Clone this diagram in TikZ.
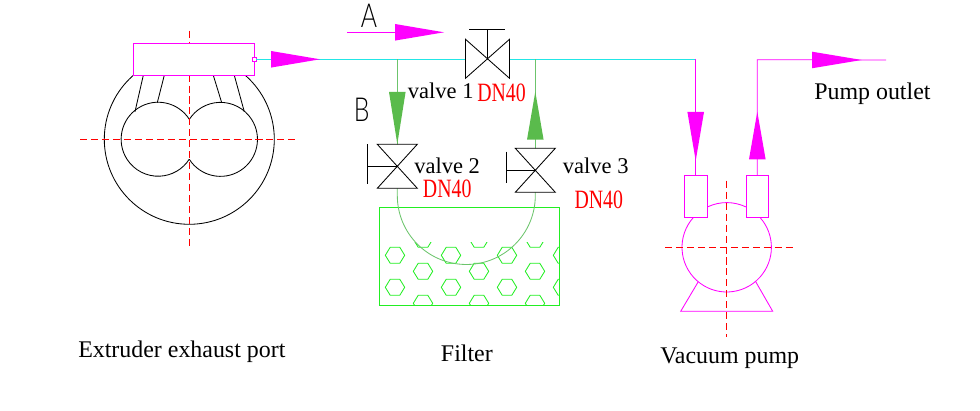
\documentclass[tikz,border=0pt]{standalone}
\usepackage{fontspec}
\usepackage{xcolor}
\usetikzlibrary{positioning,calc}
\setmainfont{Liberation Serif}
\newfontfamily\dnfont[FakeStretch=0.75]{Liberation Serif}
\newfontfamily\cadfont[FakeStretch=0.75,UprightFont=* Light]{Lato}
\definecolor{pipecyan}{HTML}{22E6E6}
\definecolor{pipegreen}{HTML}{6CC46C}
\definecolor{headgreen}{HTML}{5ABB4C}
\definecolor{filtergreen}{HTML}{22EE22}
\definecolor{pipemag}{HTML}{FF00FF}
% flow head: colour, base, angle, length
\newcommand{\flowhead}[4]{\fill[#1,shift={(#2)},rotate=#3] (0,-8.3) -- (#4,0) -- (0,8.3) -- cycle;}
\tikzset{
  cadline/.style={black,line width=0.6pt},
  centreline/.style={red,line width=0.6pt,dash pattern=on 5pt off 2.8pt},
  magline/.style={pipemag,line width=0.6pt},
  cyanline/.style={pipecyan,line width=0.6pt},
  greenline/.style={pipegreen,line width=0.6pt},
  lbl/.style={anchor=base west,inner sep=0pt,font=\fontsize{17}{20}\selectfont},
  valvelbl/.style={anchor=base west,inner sep=0pt,font=\fontsize{16}{19}\selectfont},
  dnlbl/.style={anchor=base west,inner sep=0pt,red,font=\dnfont\fontsize{18.8}{22}\selectfont},
  cadlbl/.style={anchor=base west,inner sep=0pt,font=\cadfont\fontsize{23.5}{26}\selectfont}
}
\begin{document}
\begin{tikzpicture}[x=0.025cm,y=0.025cm]
  \useasboundingbox (0,0) rectangle (980,411);
  % named points of the pipe run
  \coordinate (ventport) at (256.3,351.7);
  \coordinate (valveA) at (487.3,351.7);
  \coordinate (valveAin) at (465.5,351.7);
  \coordinate (valveAout) at (509.5,351.7);
  \coordinate (teeB) at (397.3,351.7);
  \coordinate (teeC) at (535.3,351.7);
  \coordinate (valveB) at (397.3,244.7);
  \coordinate (valveC) at (535.3,240.7);
  \coordinate (arcB) at (397.3,215.5);
  \coordinate (arcC) at (535.3,215.5);
  \coordinate (turnin) at (695.7,351.7);
  \coordinate (pumpin) at (695.7,236);
  \coordinate (pumpout) at (757.3,236);
  \coordinate (turnout) at (757.3,351.3);
  \coordinate (outlet) at (886,351);
  \coordinate (pumpc) at (726.7,163.7);

  % extruder
  \draw[cadline] (189.3,271.7) circle (85);
  \draw[cadline] (189.3,291.7) arc[start angle=32.6,end angle=327.4,radius=37];
  \draw[cadline] (189.3,251.7) arc[start angle=212.6,end angle=507.4,radius=37];
  \draw[cadline] (143.3,335.7) -- (135,299.3);
  \draw[cadline] (164.3,335.7) -- (157.3,308.3);
  \draw[cadline] (213.3,335.7) -- (221.7,308.3);
  \draw[cadline] (234.3,335.7) -- (244.3,299.3);
  \draw[centreline] (80,271.7) -- (298,271.7);
  \draw[centreline] (189.3,380.3) -- (189.3,163);
  \draw[magline,fill=white] (133.3,335.7) rectangle (254.3,367.7);
  \draw[magline,fill=white] (252.3,349.7) rectangle (256.3,353.7);

  % main pipe
  \draw[cyanline] (ventport) -- (valveAin);
  \draw[cyanline] (valveAout) -- (turnin);
  \flowhead{pipemag}{271,351.7}{0}{49}

  % valve 1
  \draw[cadline] (465.5,371.7) -- (509.5,332.7) -- (509.5,371.7) -- (465.5,332.7) -- cycle;
  \draw[cadline] (valveA) -- (487.3,381.7);
  \draw[cadline] (469.3,381.7) -- (504.7,381.7);

  % branch lines and filter
  \draw[filtergreen,line width=0.6pt] (379.3,105.7) rectangle (559.3,203.3);
  \begin{scope}
    \clip (379.3,105.7) rectangle (559.3,168.7);
    \foreach \hx/\hy in {395/155.7,451/155.7,507/155.7,563/155.7,
                         423/139.7,479/139.7,535/139.7,
                         395/123.7,451/123.7,507/123.7,563/123.7,
                         423/171.7,479/171.7,535/171.7,
                         423/107.7,479/107.7,535/107.7} {
      \draw[filtergreen,line width=0.6pt,shift={(\hx,\hy)}]
        (-9.7,0) -- (-4.8,8) -- (4.8,8) -- (9.7,0) -- (4.8,-8) -- (-4.8,-8) -- cycle;
    }
  \end{scope}
  \draw[greenline] (teeB) -- (valveB);
  \draw[greenline] (teeC) -- (valveC);
  \draw[greenline] (valveB) -- (arcB) arc[start angle=180,end angle=360,radius=69] -- (valveC);
  \flowhead{headgreen}{397.3,319}{-90}{52}
  \flowhead{headgreen}{535.3,271.3}{90}{48}

  % valve 2
  \draw[cadline,fill=white,shift={(valveB)}] (-20,22) -- (20,22) -- (-20,-22) -- (20,-22) -- cycle;
  \draw[cadline] (valveB) -- (367.7,244.7);
  \draw[cadline] (367.7,266.7) -- (367.7,227);
  % valve 3
  \draw[cadline,fill=white,shift={(valveC)}] (-20,22) -- (20,22) -- (-20,-22) -- (20,-22) -- cycle;
  \draw[cadline] (valveC) -- (506.3,240.7);
  \draw[cadline] (506.3,259.3) -- (506.3,228.3);

  % pump
  \draw[magline] (pumpc) ++(138:44.7) arc[start angle=138,end angle=401,radius=44.7];
  \draw[magline] (pumpc) ++(114.7:44.7) arc[start angle=114.7,end angle=64.6,radius=44.7];
  \draw[magline] (698.3,129.3) -- (680.7,99.7) -- (772.7,99.7) -- (755.7,129.3);
  \draw[magline] (684.3,193.7) rectangle (707.7,236);
  \draw[magline] (746.3,193.7) rectangle (768.7,236);
  \draw[centreline] (665,163.7) -- (793.3,163.7);
  \draw[centreline] (pumpc |- 0,230.3) -- (pumpc |- 0,74.3);
  \draw[magline] (turnin) -- (pumpin);
  \draw[magline] (pumpout) -- (turnout) -- (outlet);
  \flowhead{pipemag}{695.7,299}{-90}{48.7}
  \flowhead{pipemag}{757.3,251.7}{90}{47.6}
  \flowhead{pipemag}{812,351}{0}{49.7}

  % view arrow A
  \coordinate (viewA) at (347,378.7);
  \coordinate (viewAend) at (395,378.7);
  \draw[magline] (viewA) -- (viewAend);
  \flowhead{pipemag}{viewAend}{0}{49}

  % labels
  \node[cadlbl] (letterA) at (360.5,383.7) {A};
  \node[cadlbl] (letterB) at (353.5,289.3) {B};
  \node[valvelbl] (valveoneT) at (407.7,312.3) {valve 1};
  \node[dnlbl] (dnone) at (477,309.3) {DN40};
  \node[valvelbl] (valvetwoT) at (414,237.7) {valve 2};
  \node[dnlbl] (dntwo) at (422.7,213.7) {DN40};
  \node[valvelbl] (valvethreeT) at (562.7,237) {valve 3};
  \node[dnlbl] (dnthree) at (574.3,202.7) {DN40};
  \node[lbl] (outletT) at (814,311.7) {Pump outlet};
  \node[lbl] (extruderT) at (78,53) {Extruder exhaust port};
  \node[lbl] (filterT) at (440.7,49.3) {Filter};
  \node[lbl] (pumpT) at (660,47) {Vacuum pump};
\end{tikzpicture}
\end{document}
